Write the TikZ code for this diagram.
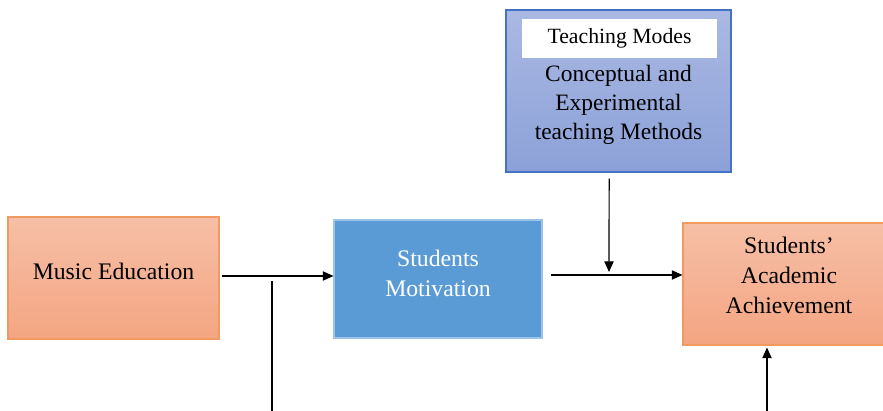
\documentclass[tikz,border=0pt]{standalone}
\usepackage{fontspec}
\setmainfont{Liberation Serif}
\usetikzlibrary{positioning,arrows.meta}

\definecolor{peachtop}{HTML}{F6BFA6}
\definecolor{peachbot}{HTML}{F4A582}
\definecolor{peachline}{HTML}{F09A60}
\definecolor{skyfill}{HTML}{5B9BD5}
\definecolor{skyline}{HTML}{9DC3E6}
\definecolor{lavtop}{HTML}{AAB9E3}
\definecolor{lavbot}{HTML}{8CA1D8}
\definecolor{lavline}{HTML}{4472C4}

\begin{document}
\begin{tikzpicture}[x=0.75pt,y=-0.75pt,line width=0.9pt,
  >={Triangle[length=8pt,width=7pt]},
  peachbox/.style={rectangle,draw=peachline,line width=0.8pt,top color=peachtop,bottom color=peachbot},
  skybox/.style={rectangle,draw=skyline,line width=0.8pt,fill=skyfill},
  lavbox/.style={rectangle,draw=lavline,line width=0.8pt,top color=lavtop,bottom color=lavbot},
  txt/.style={align=center,font=\fontsize{17.8}{22.5}\selectfont}]
   \useasboundingbox (0,0) rectangle (883,411);
   % boxes
   \node[peachbox,minimum width=158.25pt,minimum height=91.5pt] (music) at (113.5,278) {};
   \node[skybox,minimum width=156pt,minimum height=88.5pt] (motiv) at (438,279) {};
   \node[lavbox,minimum width=168.75pt,minimum height=121.5pt] (modes) at (618.5,91) {};
   \node[rectangle,fill=white,minimum width=146.25pt,minimum height=29.25pt] (modestitle) at (619.5,38.5) {};
   \node[peachbox,minimum width=159pt,minimum height=91.5pt] (achieve) at (789,284) {};
   % texts
   \node[txt] (musictxt) at ([yshift=5pt]music.center) {Music Education};
   \node[txt,text=white] (motivtxt) at ([yshift=4.5pt]motiv.center) {Students\\Motivation};
   \node[txt,font=\fontsize{16.3}{18}\selectfont] (titletxt) at (modestitle.center) {Teaching Modes};
   \node[txt,font=\fontsize{17.6}{21.75}\selectfont] (modestxt) at ([yshift=-10.5pt]modes.center) {Conceptual and\\Experimental\\teaching Methods};
   \node[txt] (achievetxt) at ([yshift=6.4pt]achieve.center) {Students’\\Academic\\Achievement};
   % connectors
   \coordinate (low1) at (272,281);
   \coordinate (low1end) at (272,411);
   \coordinate (join) at (609,275);
   \coordinate (low2) at (767,411);
   \draw[->] ([xshift=1.5pt,yshift=1.5pt]music.east) -- ([yshift=2.25pt]motiv.west);
   \draw (low1) -- (low1end);
   \draw[->] ([xshift=6pt,yshift=3pt]motiv.east) -- (achieve.west |- join);
   \draw[->,shorten >=2.25pt] ([xshift=-7pt,yshift=-4.5pt]modes.south) -- (join);
   \draw[->,shorten >=1.5pt] (low2) -- (achieve.south -| low2);
\end{tikzpicture}
\end{document}
